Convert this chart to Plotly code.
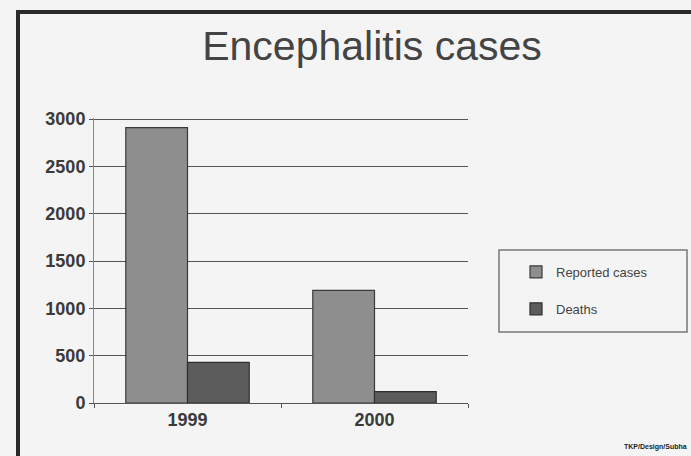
import plotly.graph_objects as go

categories = ["1999", "2000"]
reported_cases = [2910, 1190]
deaths = [430, 120]
y_ticks = [0, 500, 1000, 1500, 2000, 2500, 3000]

W, H = 691, 456
L, R, T, B = 94, 223, 118, 53
pw, ph = W - L - R, H - T - B

def px_x(x):
    return (x - L) / pw

def px_y(y):
    return (H - B - y) / ph

fig = go.Figure()
fig.add_trace(go.Bar(
    x=categories, y=reported_cases, name="Reported cases",
    marker=dict(color="#8e8e8e", line=dict(color="#3a3a3a", width=1.2)),
    legendgroup="a",
))
fig.add_trace(go.Bar(
    x=categories, y=deaths, name="Deaths",
    marker=dict(color="#5c5c5c", line=dict(color="#2e2e2e", width=1.2)),
    legendgroup="b",
))

font_family = "Liberation Sans, Arial, sans-serif"

fig.update_layout(
    width=W, height=H,
    margin=dict(l=L, r=R, t=T, b=B, pad=0),
    paper_bgcolor="#f4f4f4", plot_bgcolor="#f4f4f4",
    barmode="group", bargap=0.34, bargroupgap=0,
    font=dict(family=font_family, color="#333333"),
    title=dict(text="Encephalitis cases", xref="container", yref="container",
               x=372 / W, xanchor="center",
               y=1 - 46 / H, yanchor="middle",
               font=dict(size=41, color="#444444", family=font_family)),
    showlegend=True,
    legend=dict(x=px_x(516), xanchor="left", y=px_y(257), yanchor="top",
                bgcolor="rgba(0,0,0,0)", borderwidth=0,
                font=dict(size=13, color="#444444"),
                traceorder="grouped", tracegroupgap=17),
    xaxis=dict(showline=True, linecolor="#555555", linewidth=1,
               ticks="outside", tickson="boundaries", ticklen=4, tickcolor="#555555",
               tickfont=dict(size=18, weight="bold", color="#3a3a3a"),
               showgrid=False),
    yaxis=dict(range=[0, 3012], tickvals=y_ticks, showline=True,
               linecolor="#888888", linewidth=1,
               ticks="outside", ticklen=4, tickcolor="#555555",
               tickfont=dict(size=18, weight="bold", color="#3a3a3a"),
               showgrid=True, gridcolor="#555555", gridwidth=1, zeroline=False),
    shapes=[
        # legend box
        dict(type="rect", xref="paper", yref="paper",
             x0=px_x(499), x1=px_x(687), y0=px_y(332), y1=px_y(250),
             line=dict(color="#777777", width=1.5), fillcolor="rgba(0,0,0,0)"),
        # scan frame: left and top lines
        dict(type="line", xref="paper", yref="paper",
             x0=px_x(18), x1=px_x(18), y0=px_y(12), y1=px_y(456),
             line=dict(color="#2a2a2a", width=4)),
        dict(type="line", xref="paper", yref="paper",
             x0=px_x(16), x1=px_x(691), y0=px_y(12), y1=px_y(12),
             line=dict(color="#2a2a2a", width=4)),
    ],
    annotations=[
        dict(text="TKP/Design/Subha", xref="paper", yref="paper",
             x=px_x(689), y=px_y(447), xanchor="right", yanchor="middle",
             showarrow=False, font=dict(size=7, weight="bold", color="#222222")),
    ],
)

fig.write_html("out.html", config={"displayModeBar": False},
               post_script="document.body.style.margin='0';")
